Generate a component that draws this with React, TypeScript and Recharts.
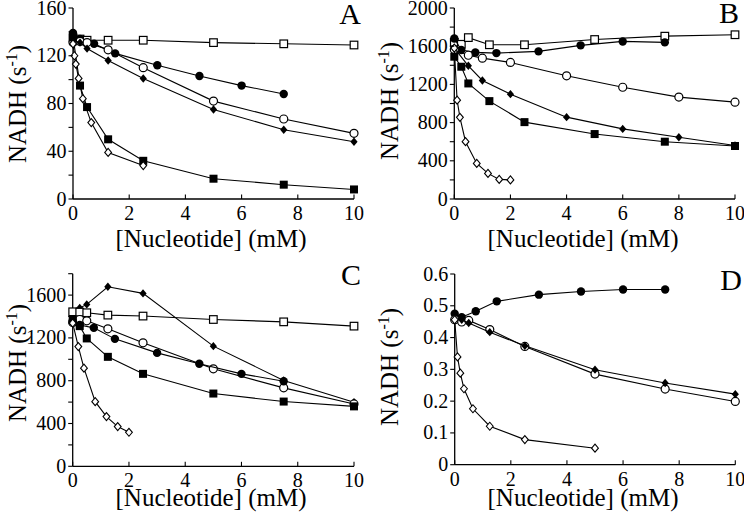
import React from 'react';
import { ScatterChart, Scatter, XAxis, YAxis } from 'recharts';

const FONT = '"Liberation Serif", "Times New Roman", serif';

// shared x ticks
const xTicks = [0, 2, 4, 6, 8, 10];

// ---- Panel A ----
const aOpenSquareX = [0, 0.25, 0.5, 1.25, 2.5, 5, 7.5, 10];
const aOpenSquareY = [135, 134, 133, 133, 133, 131, 130, 129];
const aFilledCircleX = [0, 0.25, 0.75, 1.5, 3, 4.5, 6, 7.5];
const aFilledCircleY = [139, 134, 130, 122, 112, 103, 95, 88];
const aOpenCircleX = [0, 0.25, 0.5, 1.25, 2.5, 5, 7.5, 10];
const aOpenCircleY = [131, 132, 131, 125, 110, 82, 67, 55];
const aFilledDiamondX = [0, 0.25, 0.5, 1.25, 2.5, 5, 7.5, 10];
const aFilledDiamondY = [133, 131, 126, 116, 101, 75, 58, 48];
const aFilledSquareX = [0, 0.25, 0.5, 1.25, 2.5, 5, 7.5, 10];
const aFilledSquareY = [136, 95, 77, 50, 32, 17, 12, 8];
const aOpenDiamondX = [0, 0.05, 0.1, 0.2, 0.35, 0.65, 1.25, 2.5];
const aOpenDiamondY = [130, 120, 113, 101, 84, 64, 39, 28];
const aYTicks = [0, 20, 40, 60, 80, 100, 120, 140, 160];
const aYLabels = [0, 40, 80, 120, 160];

// ---- Panel B ----
const bOpenSquareX = [0, 0.25, 0.5, 1.25, 2.5, 5, 7.5, 10];
const bOpenSquareY = [1640, 1620, 1690, 1615, 1615, 1670, 1705, 1720];
const bFilledCircleX = [0, 0.25, 0.75, 1.5, 3, 4.5, 6, 7.5];
const bFilledCircleY = [1680, 1560, 1535, 1528, 1546, 1609, 1650, 1640];
const bOpenCircleX = [0, 0.5, 1, 2, 4, 6, 8, 10];
const bOpenCircleY = [1565, 1505, 1475, 1430, 1290, 1170, 1067, 1014];
const bFilledDiamondX = [0, 0.5, 1, 2, 4, 6, 8, 10];
const bFilledDiamondY = [1580, 1395, 1241, 1098, 857, 734, 647, 560];
const bFilledSquareX = [0, 0.25, 0.5, 1.25, 2.5, 5, 7.5, 10];
const bFilledSquareY = [1490, 1385, 1210, 1025, 805, 680, 600, 555];
const bOpenDiamondX = [0, 0.1, 0.2, 0.4, 0.8, 1.2, 1.6, 2];
const bOpenDiamondY = [1580, 1035, 855, 600, 372, 268, 205, 200];
const bYTicks = [0, 200, 400, 600, 800, 1000, 1200, 1400, 1600, 1800, 2000];
const bYLabels = [0, 400, 800, 1200, 1600, 2000];

// ---- Panel C ----
const cFilledDiamondX = [0, 0.25, 0.5, 1.25, 2.5, 5, 7.5, 10];
const cFilledDiamondY = [1440, 1480, 1513, 1678, 1616, 1123, 802, 598];
const cOpenSquareX = [0, 0.25, 0.5, 1.25, 2.5, 5, 7.5, 10];
const cOpenSquareY = [1444, 1441, 1435, 1413, 1404, 1372, 1350, 1310];
const cOpenCircleX = [0, 0.25, 0.5, 1.25, 2.5, 5, 7.5, 10];
const cOpenCircleY = [1345, 1372, 1360, 1285, 1154, 911, 733, 583];
const cFilledCircleX = [0, 0.25, 0.75, 1.5, 3, 4.5, 6, 7.5];
const cFilledCircleY = [1360, 1320, 1294, 1191, 1060, 958, 864, 795];
const cFilledSquareX = [0, 0.25, 0.5, 1.25, 2.5, 5, 7.5, 10];
const cFilledSquareY = [1370, 1310, 1195, 1023, 864, 680, 605, 560];
const cOpenDiamondX = [0, 0.2, 0.4, 0.8, 1.2, 1.6, 2];
const cOpenDiamondY = [1338, 1119, 917, 604, 465, 371, 318];
const cYTicks = [0, 200, 400, 600, 800, 1000, 1200, 1400, 1600, 1800];
const cYLabels = [0, 400, 800, 1200, 1600];

// ---- Panel D ----
const dFilledCircleX = [0, 0.25, 0.75, 1.5, 3, 4.5, 6, 7.5];
const dFilledCircleY = [0.475, 0.464, 0.483, 0.514, 0.535, 0.545, 0.551, 0.551];
const dOpenCircleX = [0, 0.25, 0.5, 1.25, 2.5, 5, 7.5, 10];
const dOpenCircleY = [0.456, 0.449, 0.454, 0.425, 0.372, 0.285, 0.238, 0.199];
const dFilledDiamondX = [0, 0.25, 0.5, 1.25, 2.5, 5, 7.5, 10];
const dFilledDiamondY = [0.456, 0.456, 0.446, 0.417, 0.374, 0.299, 0.257, 0.222];
const dOpenDiamondX = [0, 0.1, 0.2, 0.33, 0.65, 1.25, 2.5, 5];
const dOpenDiamondY = [0.456, 0.339, 0.288, 0.239, 0.176, 0.121, 0.079, 0.052];
const dYTicks = [0, 0.1, 0.2, 0.3, 0.4, 0.5, 0.6];
const dYLabels = [0, 0.1, 0.2, 0.3, 0.4, 0.5, 0.6];

const zip = (xs: number[], ys: number[]) => xs.map((x, i) => ({ x, y: ys[i] }));

// marker shapes
const FilledCircle = (p: any) => <circle cx={p.cx} cy={p.cy} r={4.2} fill="#000" />;
const OpenCircle = (p: any) => (
  <circle cx={p.cx} cy={p.cy} r={4} fill="#fff" stroke="#000" strokeWidth={1.2} />
);
const FilledSquare = (p: any) => <rect x={p.cx - 4} y={p.cy - 4} width={8} height={8} fill="#000" />;
const OpenSquare = (p: any) => (
  <rect x={p.cx - 3.8} y={p.cy - 3.8} width={7.6} height={7.6} fill="#fff" stroke="#000" strokeWidth={1.2} />
);
const diamond = (cx: number, cy: number, w: number, h: number) =>
  `${cx},${cy - h} ${cx + w},${cy} ${cx},${cy + h} ${cx - w},${cy}`;
const FilledDiamond = (p: any) => <polygon points={diamond(p.cx, p.cy, 3.6, 4.2)} fill="#000" />;
const OpenDiamond = (p: any) => (
  <polygon points={diamond(p.cx, p.cy, 3.4, 4)} fill="#fff" stroke="#000" strokeWidth={1.1} />
);

type Series = { data: { x: number; y: number }[]; shape: (p: any) => React.ReactElement };

type PanelProps = {
  left: number;
  top: number;
  plot: { l: number; t: number; r: number; b: number };
  yMax: number;
  yTicks: number[];
  yLabels: number[];
  series: Series[];
  letter: string;
  letterPos: [number, number];
  yTitleY: number;
};

const W = 372;
const H = 259;

const Panel = ({ left, top, plot, yMax, yTicks, yLabels, series, letter, letterPos, yTitleY }: PanelProps) => {
  const yAxisW = 60;
  const xAxisH = 30;
  const margin = {
    left: plot.l - yAxisW,
    top: plot.t,
    right: W - plot.r,
    bottom: H - plot.b - xAxisH,
  };

  const YTick = (props: any) => {
    const { x, y, payload } = props;
    const v = payload.value;
    const showLabel = yLabels.some((l) => Math.abs(l - v) < 1e-9);
    return (
      <g>
        <line x1={x - 4.5} x2={x} y1={y} y2={y} stroke="#000" strokeWidth={1.1} />
        {showLabel && (
          <text x={x - 6.5} y={y + 6.5} textAnchor="end" fontSize={20} fontFamily={FONT} fill="#000">
            {String(v)}
          </text>
        )}
      </g>
    );
  };

  const XTick = (props: any) => {
    const { x, y, payload } = props;
    return (
      <g>
        <line x1={x} x2={x} y1={y} y2={y - 4.5} stroke="#000" strokeWidth={1.1} />
        <text x={x} y={y + 21} textAnchor="middle" fontSize={20} fontFamily={FONT} fill="#000">
          {String(payload.value)}
        </text>
      </g>
    );
  };

  return (
    <div style={{ position: 'absolute', left, top, width: W, height: H }}>
      <ScatterChart width={W} height={H} margin={margin}>
        <XAxis
          type="number"
          dataKey="x"
          domain={[0, 10]}
          ticks={xTicks}
          interval={0}
          height={xAxisH}
          tickSize={0}
          tickMargin={0}
          tickLine={false}
          axisLine={{ stroke: '#000', strokeWidth: 1.3 }}
          tick={<XTick />}
        />
        <YAxis
          type="number"
          dataKey="y"
          domain={[0, yMax]}
          ticks={yTicks}
          interval={0}
          width={yAxisW}
          tickSize={0}
          tickMargin={0}
          tickLine={false}
          axisLine={{ stroke: '#000', strokeWidth: 1.3 }}
          tick={<YTick />}
        />
        {series.map((s, i) => (
          <Scatter
            key={i}
            data={s.data}
            shape={s.shape}
            line={{ stroke: '#000', strokeWidth: 1.1 }}
            isAnimationActive={false}
          />
        ))}
      </ScatterChart>
      <svg
        width={W}
        height={H}
        style={{ position: 'absolute', left: 0, top: 0, pointerEvents: 'none' }}
      >
        <text
          transform={`translate(26, ${yTitleY}) rotate(-90)`}
          textAnchor="middle"
          fontSize={25}
          fontFamily={FONT}
          fill="#000"
        >
          NADH (s
          <tspan dy={-9} fontSize={16}>-1</tspan>
          <tspan dy={9}>)</tspan>
        </text>
        <text x={211} y={247} textAnchor="middle" fontSize={25} fontFamily={FONT} fill="#000">
          [Nucleotide] (mM)
        </text>
        <text x={letterPos[0]} y={letterPos[1]} textAnchor="middle" fontSize={30} fontFamily={FONT} fill="#000">
          {letter}
        </text>
      </svg>
    </div>
  );
};

export default function App() {
  return (
    <div style={{ position: 'absolute', left: 0, top: 0, width: 745, height: 518, background: '#fff' }}>
      <Panel
        left={0}
        top={0}
        plot={{ l: 73, t: 8, r: 354, b: 199 }}
        yMax={160}
        yTicks={aYTicks}
        yLabels={aYLabels}
        letter="A"
        letterPos={[350, 24]}
        yTitleY={104}
        series={[
          { data: zip(aOpenSquareX, aOpenSquareY), shape: OpenSquare },
          { data: zip(aFilledCircleX, aFilledCircleY), shape: FilledCircle },
          { data: zip(aOpenCircleX, aOpenCircleY), shape: OpenCircle },
          { data: zip(aFilledDiamondX, aFilledDiamondY), shape: FilledDiamond },
          { data: zip(aFilledSquareX, aFilledSquareY), shape: FilledSquare },
          { data: zip(aOpenDiamondX, aOpenDiamondY), shape: OpenDiamond },
        ]}
      />
      <Panel
        left={372}
        top={0}
        plot={{ l: 82.3, t: 8, r: 363, b: 199 }}
        yMax={2000}
        yTicks={bYTicks}
        yLabels={bYLabels}
        letter="B"
        letterPos={[357, 23]}
        yTitleY={101}
        series={[
          { data: zip(bOpenSquareX, bOpenSquareY), shape: OpenSquare },
          { data: zip(bFilledCircleX, bFilledCircleY), shape: FilledCircle },
          { data: zip(bOpenCircleX, bOpenCircleY), shape: OpenCircle },
          { data: zip(bFilledDiamondX, bFilledDiamondY), shape: FilledDiamond },
          { data: zip(bFilledSquareX, bFilledSquareY), shape: FilledSquare },
          { data: zip(bOpenDiamondX, bOpenDiamondY), shape: OpenDiamond },
        ]}
      />
      <Panel
        left={0}
        top={259}
        plot={{ l: 72.7, t: 14.7, r: 354, b: 207.3 }}
        yMax={1800}
        yTicks={cYTicks}
        yLabels={cYLabels}
        letter="C"
        letterPos={[351, 26]}
        yTitleY={104}
        series={[
          { data: zip(cFilledDiamondX, cFilledDiamondY), shape: FilledDiamond },
          { data: zip(cOpenSquareX, cOpenSquareY), shape: OpenSquare },
          { data: zip(cOpenCircleX, cOpenCircleY), shape: OpenCircle },
          { data: zip(cFilledCircleX, cFilledCircleY), shape: FilledCircle },
          { data: zip(cFilledSquareX, cFilledSquareY), shape: FilledSquare },
          { data: zip(cOpenDiamondX, cOpenDiamondY), shape: OpenDiamond },
        ]}
      />
      <Panel
        left={372}
        top={259}
        plot={{ l: 82.7, t: 15, r: 363.3, b: 205.7 }}
        yMax={0.6}
        yTicks={dYTicks}
        yLabels={dYLabels}
        letter="D"
        letterPos={[359, 31]}
        yTitleY={108}
        series={[
          { data: zip(dFilledCircleX, dFilledCircleY), shape: FilledCircle },
          { data: zip(dOpenCircleX, dOpenCircleY), shape: OpenCircle },
          { data: zip(dFilledDiamondX, dFilledDiamondY), shape: FilledDiamond },
          { data: zip(dOpenDiamondX, dOpenDiamondY), shape: OpenDiamond },
        ]}
      />
    </div>
  );
}
